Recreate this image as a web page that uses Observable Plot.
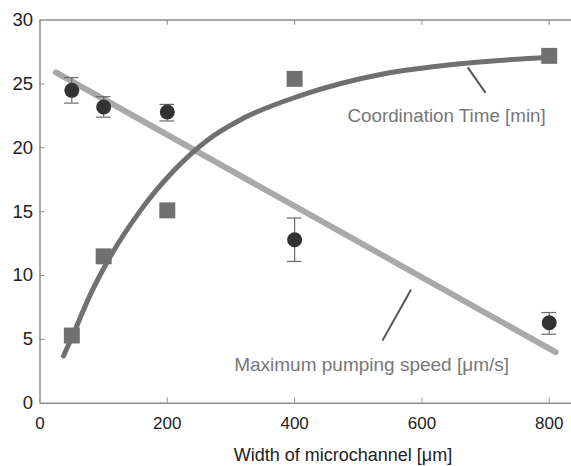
<!DOCTYPE html>
<html><head><meta charset="utf-8">
<script src="https://cdn.jsdelivr.net/npm/d3@7"></script>
<script src="https://cdn.jsdelivr.net/npm/@observablehq/plot@0.6"></script>
<style>body{margin:0;background:#fff}</style>
</head><body><div id="chart"></div>
<script>
// measured data
const widths = [50, 100, 200, 400, 800];
const pumpSpeed = [24.5, 23.2, 22.8, 12.8, 6.3];
const pumpLow = [23.5, 22.4, 22.1, 11.1, 5.4];
const pumpHigh = [25.5, 24.0, 23.4, 14.5, 7.1];
const coordTime = [5.3, 11.5, 15.1, 25.4, 27.2];
// fitted lines
const pumpFitX = [25, 810];
const pumpFitY = [25.9, 4.0];
const coordFitX = [37, 53, 79, 106, 158, 210, 263, 315, 410, 541, 645, 800];
const coordFitY = [3.7, 5.5, 8.5, 11.1, 15.1, 18.2, 20.6, 22.2, 24.1, 25.8, 26.5, 27.1];
// ticks and labels
const xTicks = [0, 200, 400, 600, 800];
const yTicks = [0, 5, 10, 15, 20, 25, 30];
const xLabel = "Width of microchannel [μm]";
const coordLabel = "Coordination Time [min]";
const pumpLabel = "Maximum pumping speed [μm/s]";
const coordLeader = [{x1: 672, y1: 26.3, x2: 700, y2: 24.3}];
const pumpLeader = [{x1: 583, y1: 8.9, x2: 538, y2: 4.9}];

const pts = widths.map((w, i) => ({x: w, speed: pumpSpeed[i], lo: pumpLow[i], hi: pumpHigh[i], coord: coordTime[i]}));
const pumpFit = pumpFitX.map((x, i) => ({x, y: pumpFitY[i]}));
const coordFit = coordFitX.map((x, i) => ({x, y: coordFitY[i]}));
const capHalf = 11.5;
const axisColor = "#8e8e8e";

const chart = Plot.plot({
  width: 571,
  height: 466,
  marginLeft: 39.5,
  marginRight: 0,
  marginTop: 19.6,
  marginBottom: 63.3,
  style: {fontFamily: "'Liberation Sans', Arial, sans-serif", background: "#fff", color: "#222"},
  x: {domain: [0, 835]},
  y: {domain: [0, 30]},
  marks: [
    // frame
    Plot.ruleY([0, 30], {stroke: axisColor, strokeWidth: 1.5}),
    Plot.ruleX([0], {stroke: axisColor, strokeWidth: 1.5}),
    // inward ticks
    Plot.ruleX(xTicks.filter(d => d > 0), {x: d => d, y1: 0, y2: 0.4, stroke: axisColor, strokeWidth: 1}),
    Plot.ruleX(xTicks.filter(d => d > 0), {x: d => d, y1: 29.6, y2: 30, stroke: axisColor, strokeWidth: 1}),
    Plot.ruleY(yTicks.filter(d => d > 0 && d < 30), {y: d => d, x1: 0, x2: 8, stroke: axisColor, strokeWidth: 1}),
    // tick labels
    Plot.axisX(xTicks, {anchor: "bottom", tickSize: 0, tickPadding: 14, fontSize: 17, label: null, fill: "#222"}),
    Plot.axisY(yTicks, {anchor: "left", tickSize: 0, tickPadding: 7, fontSize: 18.5, label: null, fill: "#222"}),
    Plot.text([xLabel], {x: 476, frameAnchor: "bottom", dy: 52.5, fontSize: 18, fill: "#222", textAnchor: "middle", lineAnchor: "middle"}),
    // fit lines
    Plot.line(pumpFit, {x: "x", y: "y", stroke: "#a9a9a9", strokeWidth: 6}),
    Plot.line(coordFit, {x: "x", y: "y", stroke: "#707070", strokeWidth: 5, curve: "monotone-x"}),
    // squares
    Plot.dot(pts, {x: "x", y: "coord", symbol: "square", r: 9, fill: "#707070", stroke: "none"}),
    // error bars
    Plot.ruleX(pts, {x: "x", y1: "lo", y2: "hi", stroke: "#6a6a6a", strokeWidth: 1.2}),
    Plot.ruleY(pts, {y: "hi", x1: d => d.x - capHalf, x2: d => d.x + capHalf, stroke: "#6a6a6a", strokeWidth: 1.2}),
    Plot.ruleY(pts, {y: "lo", x1: d => d.x - capHalf, x2: d => d.x + capHalf, stroke: "#6a6a6a", strokeWidth: 1.2}),
    // circles
    Plot.dot(pts, {x: "x", y: "speed", r: 7.5, fill: "#333", stroke: "none"}),
    // annotations
    Plot.link(coordLeader, {x1: "x1", y1: "y1", x2: "x2", y2: "y2", stroke: "#555", strokeWidth: 2}),
    Plot.link(pumpLeader, {x1: "x1", y1: "y1", x2: "x2", y2: "y2", stroke: "#555", strokeWidth: 2}),
    Plot.text([coordLabel], {x: 483, y: 22.5, text: d => d, textAnchor: "start", lineAnchor: "middle", fontSize: 18.8, fill: "#777"}),
    Plot.text([pumpLabel], {x: 305, y: 3.0, text: d => d, textAnchor: "start", lineAnchor: "middle", fontSize: 19, fill: "#777"})
  ]
});
document.getElementById("chart").appendChild(chart);
</script>
</body></html>
